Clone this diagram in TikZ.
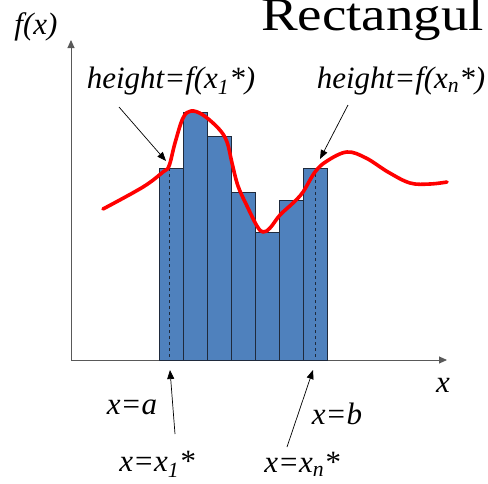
\documentclass[tikz,border=0pt]{standalone}
\usepackage{fontspec}
\setmainfont{Liberation Serif}
\usetikzlibrary{arrows.meta}
\definecolor{barblue}{HTML}{4F81BD}
\definecolor{baredge}{HTML}{1F2A3C}
\definecolor{axisgray}{HTML}{595959}
\definecolor{curvered}{HTML}{FF0000}
\tikzset{
  bar/.style={draw=baredge,fill=barblue,line width=0.9pt},
  sample/.style={draw=baredge,dash pattern=on 3pt off 3pt,line width=0.8pt},
  axis/.style={draw=axisgray,line width=0.9pt,-{Triangle[length=8pt,width=7pt]}},
  pointer/.style={draw=black,line width=0.7pt,-{Triangle[length=9pt,width=7pt]}},
  curve/.style={draw=curvered,line width=3.6pt,line cap=round,line join=round},
  mathtag/.style={inner sep=0pt,font=\fontsize{31}{33}\selectfont\itshape},
  titletext/.style={inner sep=0pt,font=\fontsize{47}{50}\selectfont}
}

\begin{document}
\begin{tikzpicture}[x=1pt,y=-1pt]
  \useasboundingbox (0,0) rectangle (488,483);
  \clip (0,0) rectangle (488,483);

  % axes
  \coordinate (origin) at (71,360);
  \coordinate (ytip) at (71,40);
  \coordinate (xtip) at (447,360);
  \draw[axis] (origin) -- (ytip);
  \draw[axis] (origin) -- (xtip);

  % rectangles
  \foreach \i/\h in {1/168,2/112,3/136,4/192,5/232,6/200,7/168}
    \draw[bar] ({159+24*(\i-1)},360) rectangle ({183+24*(\i-1)},\h);
  \draw[sample] (169.7,168) -- (169.7,360);
  \draw[sample] (315.3,168) -- (315.3,360);

  % f(x)
  \draw[curve] plot[smooth,tension=0.6] coordinates {
    (103,209) (143,187) (163,172) (169,166) (175,143) (183,118) (191,111)
    (203,115) (219,129) (227,142) (232,163) (238,186) (247,206) (257,226)
    (263,232) (270,228) (280,215) (293,203) (303,192) (315,172) (327,161)
    (347,152) (366,158) (388,172) (410,183) (430,184) (447,182)};

  % labels
  \node[titletext,anchor=base west] (title) at (261,30) {\scalebox{1.17}[1]{Rectangul}};
  \node[mathtag] (fx) at (36,27) {f(x)};
  \node[mathtag] (xlab) at (443,385) {x};
  \node[mathtag] (hfirst) at (171,81) {height=f(x\textsubscript{1}*)};
  \node[mathtag] (hlast) at (401,81) {height=f(x\textsubscript{n}*)};
  \node[mathtag] (xa) at (132,407) {x=a};
  \node[mathtag] (xb) at (337,414) {x=b};
  \node[mathtag] (xfirst) at (157,464) {x=x\textsubscript{1}*};
  \node[mathtag] (xlast) at (302,464) {x=x\textsubscript{n}*};

  % pointers
  \coordinate (hfirsttail) at (119,107);
  \coordinate (hfirsttip) at (166,161);
  \coordinate (hlasttail) at (348,105);
  \coordinate (hlasttip) at (320,159);
  \coordinate (xfirsttail) at (175,434);
  \coordinate (xfirsttip) at (170,370);
  \coordinate (xlasttail) at (287,447);
  \coordinate (xlasttip) at (313,370);
  \draw[pointer] (hfirsttail) -- (hfirsttip);
  \draw[pointer] (hlasttail) -- (hlasttip);
  \draw[pointer] (xfirsttail) -- (xfirsttip);
  \draw[pointer] (xlasttail) -- (xlasttip);
\end{tikzpicture}
\end{document}
